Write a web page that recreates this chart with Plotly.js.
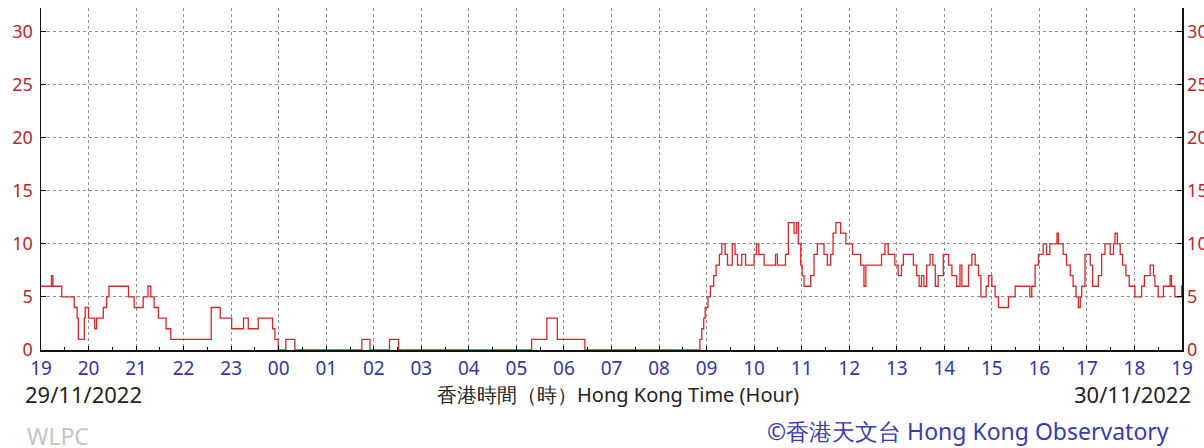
<!DOCTYPE html>
<html>
<head>
<meta charset="utf-8">
<script src="https://cdn.plot.ly/plotly-3.0.1.min.js"></script>
<style>
html,body{margin:0;padding:0;background:#fff;}
#chart{width:1204px;height:448px;}
</style>
</head>
<body>
<div id="chart"></div>
<script>
// Hours elapsed since 19:00 29/11/2022 at which the reading changes
const hours = [
 0.00,0.22,0.25,0.435,0.70,0.76,0.785,0.91,0.93,1.00,1.13,1.17,1.31,1.38,1.43,
 1.84,1.96,2.15,2.25,2.31,2.38,2.47,2.63,2.73,3.58,3.77,4.01,4.26,4.36,4.57,
 4.87,4.92,4.99,5.15,5.34,6.75,6.92,7.33,7.52,10.32,10.64,10.86,11.44,
 13.86,13.90,13.94,13.97,14.03,14.08,14.15,14.20,14.27,14.32,14.39,14.44,14.54,
 14.60,14.65,14.74,14.82,15.00,15.05,15.10,15.21,15.45,15.49,15.66,15.72,15.84,
 15.89,15.93,15.98,16.01,16.05,16.19,16.26,16.33,16.47,16.54,16.61,16.66,16.72,
 16.82,16.93,17.07,17.24,17.31,17.35,17.68,17.75,17.82,17.96,18.03,18.10,18.14,
 18.35,18.42,18.47,18.52,18.57,18.63,18.70,18.76,18.81,18.87,18.98,19.09,19.16,
 19.26,19.33,19.37,19.51,19.58,19.65,19.72,19.77,19.88,19.93,20.00,20.07,20.14,
 20.35,20.49,20.80,20.84,20.91,20.98,21.08,21.15,21.22,21.37,21.40,21.50,21.57,
 21.65,21.71,21.77,21.82,21.86,21.89,21.96,22.07,22.12,22.24,22.31,22.38,22.49,
 22.56,22.59,22.64,22.70,22.75,22.82,22.89,23.01,23.15,23.21,23.33,23.40,23.43,
 23.50,23.61,23.75,23.78,23.85,23.99,24.00
];
const values = [
 6,7,6,5,4,3,1,3,4,3,2,3,4,5,6,
 5,4,5,6,5,4,3,2,1,4,3,2,3,2,3,
 2,1,0,1,0,1,0,1,0,1,3,1,0,
 1,2,3,4,5,6,7,8,9,10,9,8,10,
 9,8,9,8,9,10,9,8,9,8,9,12,11,
 12,10,8,7,6,7,9,10,9,8,9,11,12,
 11,10,9,8,6,8,9,10,9,8,7,8,9,
 8,7,6,7,6,8,9,8,6,7,9,8,7,
 6,8,6,8,9,8,7,5,6,7,6,5,4,
 5,6,5,6,8,9,10,9,10,11,10,9,8,
 7,6,5,4,5,6,9,8,6,7,9,10,9,
 10,11,10,9,8,7,6,5,6,7,8,7,6,
 5,6,7,6,5,6,6
];
const hourTickVals = [0,1,2,3,4,5,6,7,8,9,10,11,12,13,14,15,16,17,18,19,20,21,22,23,24];
const hourTickText = ['19','20','21','22','23','00','01','02','03','04','05','06','07','08','09','10','11','12','13','14','15','16','17','18','19'];
const yTickVals = [0,5,10,15,20,25,30];
const startDate = '29/11/2022';
const endDate = '30/11/2022';
const xTitle = '香港時間（時）Hong Kong Time (Hour)';
const stationCode = 'WLPC';
const credit = '©香港天文台 Hong Kong Observatory';

const W = 1204, H = 448;
const L = 41, R = 1182, T = 8, B = 350;
const px = p => (p - L) / (R - L);
const py = p => (B - p) / (B - T);
const FONT = 'Noto Sans, DejaVu Sans, sans-serif';

const trace = {
  x: hours, y: values, type: 'scatter', mode: 'lines',
  line: {shape: 'hv', color: 'rgb(214,40,40)', width: 1.3},
  hoverinfo: 'skip', showlegend: false
};
const trace2 = {x: [0], y: [0], yaxis: 'y2', mode: 'markers', marker: {opacity: 0}, showlegend: false, hoverinfo: 'skip'};

const yCommon = {
  range: [0, 32.2], tickvals: yTickVals, ticks: 'inside', ticklen: 5, tickcolor: '#000',
  showline: true, linecolor: '#111', linewidth: 1.5, zeroline: false,
  tickfont: {family: FONT, size: 18, color: '#b22a2a'}, fixedrange: true
};

const layout = {
  width: W, height: H,
  margin: {l: L, r: W - R, t: T, b: H - B, pad: 0},
  paper_bgcolor: '#fff', plot_bgcolor: '#fff',
  xaxis: {
    range: [0, 24], tickvals: hourTickVals, ticktext: hourTickText,
    ticks: 'inside', ticklen: 4, tickcolor: '#000', tickwidth: 1,
    showline: true, linecolor: '#111', linewidth: 2, zeroline: false,
    showgrid: true, gridcolor: '#8f8f8f', gridwidth: 1, griddash: 'dot',
    tickfont: {family: FONT, size: 19, color: '#3535a8'},
    minor: {dtick: 0.5, tick0: 0, ticks: 'inside', ticklen: 3, tickcolor: '#000', showgrid: false},
    fixedrange: true
  },
  yaxis: Object.assign({}, yCommon, {
    side: 'left', showgrid: true, gridcolor: '#8f8f8f', gridwidth: 1, griddash: '3px,3px',
    ticklabelstandoff: 3
  }),
  yaxis2: Object.assign({}, yCommon, {
    side: 'right', overlaying: 'y', anchor: 'x', showgrid: false
  }),
  annotations: [
    {text: startDate, xref: 'paper', yref: 'paper', x: px(23), y: py(394), xanchor: 'left', yanchor: 'middle', showarrow: false, font: {family: FONT, size: 22, color: '#222'}},
    {text: xTitle, xref: 'paper', yref: 'paper', x: px(618), y: py(394), xanchor: 'center', yanchor: 'middle', showarrow: false, font: {family: FONT, size: 20, color: '#222'}},
    {text: endDate, xref: 'paper', yref: 'paper', x: px(1193), y: py(394), xanchor: 'right', yanchor: 'middle', showarrow: false, font: {family: FONT, size: 22, color: '#222'}},
    {text: stationCode, xref: 'paper', yref: 'paper', x: px(25), y: py(436), xanchor: 'left', yanchor: 'middle', showarrow: false, font: {family: FONT, size: 23, color: '#c4c4c4'}},
    {text: credit, xref: 'paper', yref: 'paper', x: px(1171), y: py(431), xanchor: 'right', yanchor: 'middle', showarrow: false, font: {family: FONT, size: 23, color: '#3a3ab4'}}
  ]
};

Plotly.newPlot('chart', [trace, trace2], layout, {staticPlot: true, displayModeBar: false});
</script>
</body>
</html>
